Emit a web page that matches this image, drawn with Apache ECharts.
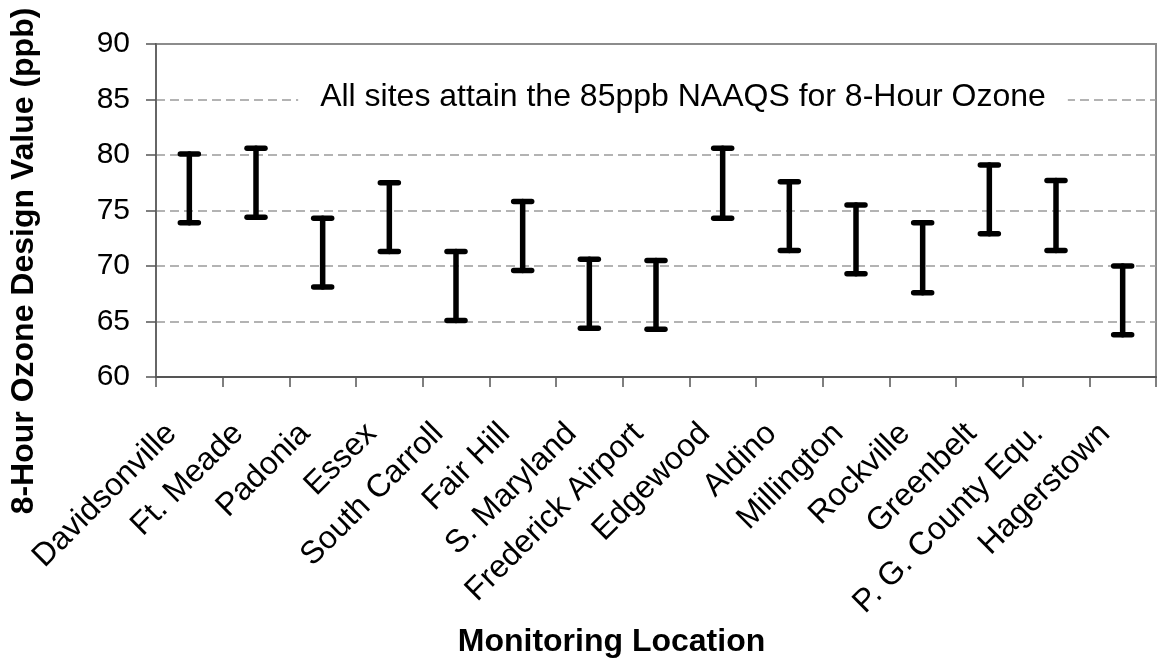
<!DOCTYPE html>
<html>
<head>
<meta charset="utf-8">
<script src="https://cdn.jsdelivr.net/npm/echarts@6/dist/echarts.min.js"></script>
<style>
    html, body { margin: 0; padding: 0; background: #fff; }
    #chart { width: 1159px; height: 665px; }
</style>
</head>
<body>
<div id="chart"></div>
<script>
    // monitoring sites along the x axis
    var categories = ['Davidsonville', 'Ft. Meade', 'Padonia', 'Essex', 'South Carroll', 'Fair Hill',
        'S. Maryland', 'Frederick Airport', 'Edgewood', 'Aldino', 'Millington', 'Rockville',
        'Greenbelt', 'P. G. County Equ.', 'Hagerstown'];
    // top and bottom of each range (ppb)
    var highValues = [80.1, 80.6, 74.3, 77.5, 71.3, 75.8, 70.6, 70.5, 80.6, 77.6, 75.5, 73.9, 79.1, 77.7, 70.0];
    var lowValues = [73.9, 74.4, 68.1, 71.3, 65.1, 69.6, 64.4, 64.3, 74.3, 71.4, 69.3, 67.6, 72.9, 71.4, 63.8];
    var yTicks = [60, 65, 70, 75, 80, 85, 90];

    var font = 'Arial, "Liberation Sans", sans-serif';
    var myChart = echarts.init(document.getElementById('chart'));

    var rangeData = categories.map(function (c, i) {
        return [i, lowValues[i], highValues[i]];
    });

    var options = {
        animation: false,
        grid: {
            left: 155,
            right: 3,
            top: 44,
            bottom: 288,
            show: true,
            borderColor: '#8c8c8c',
            borderWidth: 2
        },
        xAxis: {
            type: 'category',
            data: categories,
            boundaryGap: true,
            name: 'Monitoring Location',
            nameLocation: 'middle',
            nameGap: 246,
            nameTextStyle: {
                fontFamily: font,
                fontSize: 32,
                fontWeight: 'bold',
                color: '#000',
                padding: [0, 89, 0, 0]
            },
            axisLine: { lineStyle: { color: '#555', width: 2 } },
            axisTick: { show: true, length: 10, alignWithLabel: false, lineStyle: { color: '#555', width: 1.5 } },
            axisLabel: {
                interval: 0,
                rotate: 45,
                margin: 34,
                padding: [0, 25, 0, 0],
                fontFamily: font,
                fontSize: 32,
                color: '#000'
            },
            splitLine: { show: false }
        },
        yAxis: {
            type: 'value',
            min: yTicks[0],
            max: yTicks[yTicks.length - 1],
            interval: 5,
            name: '8-Hour Ozone Design Value (ppb)',
            nameLocation: 'middle',
            nameGap: 116,
            nameTextStyle: {
                fontFamily: font,
                fontSize: 32,
                fontWeight: 'bold',
                color: '#000',
                padding: [0, 101, 0, 0]
            },
            axisLine: { show: true, lineStyle: { color: '#666', width: 2 } },
            axisTick: { show: true, length: 10, lineStyle: { color: '#555', width: 1.5 } },
            axisLabel: {
                margin: 26,
                fontFamily: font,
                fontSize: 30,
                color: '#000'
            },
            splitLine: {
                show: true,
                showMinLine: false,
                showMaxLine: false,
                lineStyle: { color: '#9a9a9a', width: 1.5, type: [9, 5] }
            }
        },
        graphic: [
            {
                type: 'text',
                z: 100,
                x: 683,
                y: 97,
                style: {
                    text: 'All sites attain the 85ppb NAAQS for 8-Hour Ozone',
                    fontFamily: font,
                    fontSize: 32,
                    fill: '#000',
                    align: 'center',
                    verticalAlign: 'middle',
                    backgroundColor: '#fff',
                    padding: [4, 22]
                }
            }
        ],
        series: [
            {
                type: 'custom',
                data: rangeData,
                encode: { x: 0, y: [1, 2] },
                renderItem: function (params, api) {
                    var lo = api.coord([api.value(0), api.value(1)]);
                    var hi = api.coord([api.value(0), api.value(2)]);
                    var x = lo[0];
                    var hw = 9;
                    var style = { stroke: '#000', lineWidth: 5.5, lineCap: 'round' };
                    return {
                        type: 'group',
                        children: [
                            { type: 'line', shape: { x1: x, y1: hi[1], x2: x, y2: lo[1] }, style: style },
                            { type: 'line', shape: { x1: x - hw, y1: hi[1], x2: x + hw, y2: hi[1] }, style: style },
                            { type: 'line', shape: { x1: x - hw, y1: lo[1], x2: x + hw, y2: lo[1] }, style: style }
                        ]
                    };
                }
            }
        ]
    };
    myChart.setOption(options);
</script>
</body>
</html>
